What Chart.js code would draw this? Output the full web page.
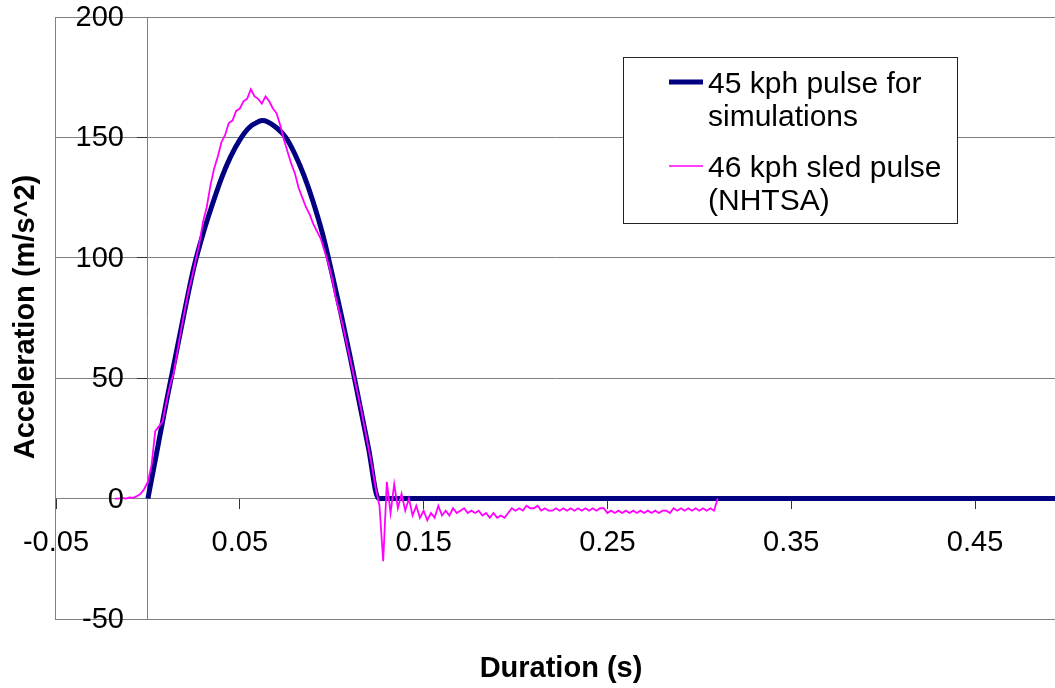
<!DOCTYPE html>
<html>
<head>
<meta charset="utf-8">
<script src="https://cdn.jsdelivr.net/npm/chart.js@4.4.1/dist/chart.umd.min.js"></script>
<style>
  html, body { margin: 0; padding: 0; background: #fff; }
  canvas { display: block; }
</style>
</head>
<body>
<canvas id="pulseChart" width="1055" height="688"></canvas>
<script>
// 45 kph pulse used for the simulations (s, m/s^2)
const pulseTime = [0, 0.005, 0.01, 0.015, 0.02, 0.025, 0.03, 0.035, 0.04, 0.045, 0.05,
  0.055, 0.06, 0.0625, 0.065, 0.07, 0.075, 0.08, 0.085, 0.09, 0.095, 0.1,
  0.105, 0.11, 0.115, 0.12, 0.1255, 0.5];
const pulseAccel = [0, 20, 40, 59, 78, 96, 110, 122, 133, 142, 149,
  154, 156.5, 157, 156.5, 154, 150, 143, 134, 123, 110, 94,
  77, 59, 40, 21, 0, 0];

// 46 kph NHTSA sled record, one sample every 2 ms starting at -18 ms
const sledStart = -0.018;
const sledStep = 0.002;
const sledAccel = [
  0, 0, 0.3, 0, 0.5, 0.3, 1, 2, 4, 7,
  14, 28, 30, 32, 40, 47, 52, 61, 70, 78,
  86, 92, 99, 106, 115, 121, 130, 137, 142, 148,
  151, 156, 157, 161, 162, 165, 166, 170, 167, 166,
  164, 167, 165, 162, 160, 155, 149, 144, 139, 135,
  129, 125, 121, 118, 114, 111, 108, 103, 98, 92,
  84, 78, 72, 65, 58, 51, 44, 37, 29, 21,
  13, 4, -3, -26, 7, -6, 6, -4, 2, -5,
  0, -7, -3, -8, -5, -9, -6, -8, -3, -7,
  -5, -7, -4, -6, -5, -4, -6, -5, -6, -5,
  -7, -6, -8, -6, -8, -7, -8, -6, -4, -5,
  -4, -5, -3, -4, -4, -3, -5, -4, -5, -5,
  -4, -5, -4, -5, -4, -5, -4, -5, -4, -5,
  -4, -5, -4, -4, -6, -5, -6, -5, -6, -5,
  -6, -5, -6, -5, -6, -5, -6, -5, -6, -5,
  -5, -6, -4, -5, -4, -5, -4, -5, -4, -5,
  -4, -5, -4, -5, 0
];

const seriesNames = ['45 kph pulse for simulations', '46 kph sled pulse (NHTSA)'];
const legendLines = [['45 kph pulse for', 'simulations'], ['46 kph sled pulse', '(NHTSA)']];
const seriesColors = ['#000080', '#FF00FF'];
const xTicks = [-0.05, 0.05, 0.15, 0.25, 0.35, 0.45];
const yTicks = [-50, 0, 50, 100, 150, 200];

const FONT = "'Liberation Sans', Arial, sans-serif";
Chart.defaults.font.family = FONT;
Chart.defaults.color = '#000';

const pulsePoints = pulseTime.map((t, i) => ({ x: t, y: pulseAccel[i] }));
const sledPoints = sledAccel.map((v, i) => ({ x: +(sledStart + i * sledStep).toFixed(3), y: v }));

// plot frame, y tick labels, legend box and axis titles
const decorations = {
  id: 'decorations',
  beforeDatasetsDraw(chart) {
    const { ctx, chartArea: a } = chart;
    ctx.save();
    ctx.strokeStyle = '#808080';
    ctx.lineWidth = 1;
    ctx.strokeRect(a.left - 0.5, a.top + 0.5, a.right - a.left + 10, a.bottom - a.top);
    ctx.restore();
  },
  afterDraw(chart) {
    const { ctx, scales } = chart;
    ctx.save();

    // y labels sit left of the axis that crosses at x = 0
    const axisX = scales.x.getPixelForValue(0);
    ctx.font = '29px ' + FONT;
    ctx.fillStyle = '#000';
    ctx.textAlign = 'right';
    ctx.textBaseline = 'middle';
    yTicks.forEach(v => {
      ctx.fillText(String(v), axisX - 24, scales.y.getPixelForValue(v) + 1);
    });

    // legend
    const box = { x: 623, y: 57, w: 334, h: 166 };
    ctx.fillStyle = '#fff';
    ctx.fillRect(box.x, box.y, box.w, box.h);
    ctx.strokeStyle = '#222';
    ctx.lineWidth = 1;
    ctx.strokeRect(box.x + 0.5, box.y + 0.5, box.w, box.h);

    const entryY = [82, 166];
    const widths = [5, 1.6];
    ctx.font = '30px ' + FONT;
    ctx.fillStyle = '#000';
    ctx.textAlign = 'left';
    ctx.textBaseline = 'alphabetic';
    legendLines.forEach((lines, i) => {
      ctx.strokeStyle = seriesColors[i];
      ctx.lineWidth = widths[i];
      ctx.beginPath();
      ctx.moveTo(669, entryY[i]);
      ctx.lineTo(703, entryY[i]);
      ctx.stroke();
      lines.forEach((txt, j) => {
        ctx.fillText(txt, 708, entryY[i] + 11 + j * 33);
      });
    });

    // axis titles
    ctx.font = 'bold 29px ' + FONT;
    ctx.textAlign = 'center';
    ctx.textBaseline = 'middle';
    ctx.fillText('Duration (s)', 561, 669);
    ctx.translate(26, 317);
    ctx.rotate(-Math.PI / 2);
    ctx.fillText('Acceleration (m/s^2)', 0, 0);
    ctx.restore();
  }
};

new Chart(document.getElementById('pulseChart'), {
  type: 'line',
  data: {
    datasets: [
      {
        label: seriesNames[0],
        data: pulsePoints,
        borderColor: seriesColors[0],
        borderWidth: 5,
        pointRadius: 0,
        cubicInterpolationMode: 'monotone',
        order: 2
      },
      {
        label: seriesNames[1],
        data: sledPoints,
        borderColor: seriesColors[1],
        borderWidth: 1.8,
        pointRadius: 0,
        tension: 0,
        order: 1
      }
    ]
  },
  options: {
    responsive: false,
    animation: false,
    layout: { padding: { left: 56, top: 17, right: 0, bottom: 69 } },
    plugins: {
      legend: { display: false },
      tooltip: { enabled: false }
    },
    scales: {
      x: {
        type: 'linear',
        min: -0.05,
        max: 0.4935,
        position: { y: 0 },
        afterBuildTicks: scale => { scale.ticks = xTicks.map(v => ({ value: v })); },
        ticks: {
          font: { size: 29 },
          padding: 17,
          maxRotation: 0,
          autoSkip: false,
          callback: v => String(v)
        },
        grid: { drawOnChartArea: false, tickLength: 10, tickColor: '#333' },
        border: { color: '#808080', width: 1 }
      },
      y: {
        type: 'linear',
        min: -50,
        max: 200,
        position: { x: 0 },
        afterBuildTicks: scale => { scale.ticks = yTicks.map(v => ({ value: v })); },
        ticks: { display: false },
        grid: { color: '#808080', lineWidth: 1, tickLength: 10, tickColor: '#333' },
        border: { color: '#808080', width: 1 }
      }
    }
  },
  plugins: [decorations]
});
</script>
</body>
</html>
